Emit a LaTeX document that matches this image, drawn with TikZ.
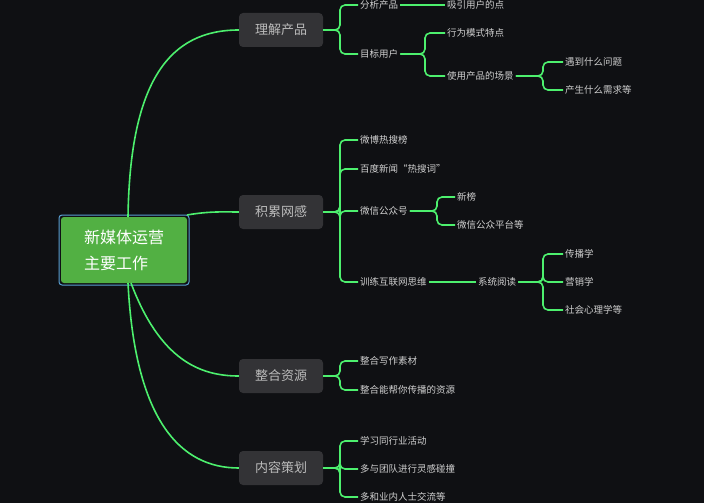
\documentclass[tikz,border=0pt]{standalone}
\usepackage{fontspec}
\newfontfamily\cjk{Noto Sans CJK SC}
\begin{document}
\begin{tikzpicture}[x=1pt,y=-1pt,
  lk/.style={draw=lgreen,line width=1.6pt,rounded corners=5pt},
  lv1/.style={fill=boxgray,rounded corners=4pt,minimum width=84pt,minimum height=34pt,text=txtgray,font=\cjk\fontsize{13}{15}\selectfont},
  leaf/.style={anchor=west,inner sep=2pt,text=txtleaf,font=\cjk\fontsize{9.5}{11}\selectfont}]
\definecolor{lgreen}{HTML}{4DF06E}
\definecolor{boxgray}{HTML}{333336}
\definecolor{txtgray}{HTML}{BBBBBB}
\definecolor{txtleaf}{HTML}{D0D0D0}
\definecolor{bg}{HTML}{0F1013}
\fill[bg] (0,0) rectangle (704,503);
\useasboundingbox (0,0) rectangle (704,503);
% root
\draw[draw={rgb,255:red,90;green,160;blue,210},line width=1pt,rounded corners=3pt] (59,215) rectangle (189,285);
\node[fill={rgb,255:red,82;green,176;blue,67},rounded corners=3pt,minimum width=126pt,minimum height=66pt,inner sep=0pt] (root) at (124,250) {};
\node[text=white,align=left,font=\cjk\fontsize{16}{26}\selectfont] (rt) at (124,250) {新媒体运营\\主要工作};
% level 1
\node[lv1] (A) at (281,30) {理解产品};
\node[lv1] (B) at (281,212) {积累网感};
\node[lv1] (C) at (281,376) {整合资源};
\node[lv1] (D) at (281,468) {内容策划};
\coordinate (rt1) at (128,217);
\coordinate (rt2) at (187,215);
\coordinate (rb) at (128,283);
\coordinate (rb2) at (131,283);
\draw[lk] (rt1) .. controls (130,80) and (170,30) .. (A.west);
\draw[lk] (rt2) .. controls (210,211) and (225,212) .. (B.west);
\draw[lk] (rb2) .. controls (160,360) and (200,376) .. (C.west);
\draw[lk] (rb) .. controls (135,420) and (180,468) .. (D.west);
% A
\node[leaf] (a1) at (358,5) {分析产品};
\node[leaf] (a2) at (358,54) {目标用户};
\node[leaf] (a11) at (445,5) {吸引用户的点};
\node[leaf] (a21) at (445,33) {行为模式特点};
\node[leaf] (a22) at (445,76) {使用产品的场景};
\node[leaf] (a221) at (563,62) {遇到什么问题};
\node[leaf] (a222) at (563,90) {产生什么需求等};
\foreach \c in {a1,a2} \draw[lk] (A.east) -- (340,30) |- (\c.west);
\draw[lk] (a1.east) -- (a11.west);
\foreach \c in {a21,a22} \draw[lk] (a2.east) -- (425,54) |- (\c.west);
\foreach \c in {a221,a222} \draw[lk] (a22.east) -- (543,76) |- (\c.west);
% B
\node[leaf] (b1) at (358,140) {微博热搜榜};
\node[leaf] (b2) at (358,169) {百度新闻“热搜词”};
\node[leaf] (b3) at (358,211) {微信公众号};
\node[leaf] (b4) at (358,282) {训练互联网思维};
\node[leaf] (b31) at (455,197) {新榜};
\node[leaf] (b32) at (455,225) {微信公众平台等};
\node[leaf] (b41) at (476,282) {系统阅读};
\node[leaf] (b411) at (563,254) {传播学};
\node[leaf] (b412) at (563,282) {营销学};
\node[leaf] (b413) at (563,310) {社会心理学等};
\foreach \c in {b1,b2,b3,b4} \draw[lk] (B.east) -- (340,212) |- (\c.west);
\foreach \c in {b31,b32} \draw[lk] (b3.east) -- (437,211) |- (\c.west);
\draw[lk] (b4.east) -- (b41.west);
\foreach \c in {b411,b412,b413} \draw[lk] (b41.east) -- (543,282) |- (\c.west);
% C
\node[leaf] (c1) at (358,361) {整合写作素材};
\node[leaf] (c2) at (358,390) {整合能帮你传播的资源};
\foreach \c in {c1,c2} \draw[lk] (C.east) -- (340,376) |- (\c.west);
% D
\node[leaf] (d1) at (358,441) {学习同行业活动};
\node[leaf] (d2) at (358,469) {多与团队进行灵感碰撞};
\node[leaf] (d3) at (358,497) {多和业内人士交流等};
\foreach \c in {d1,d2,d3} \draw[lk] (D.east) -- (340,468) |- (\c.west);
\end{tikzpicture}
\end{document}
